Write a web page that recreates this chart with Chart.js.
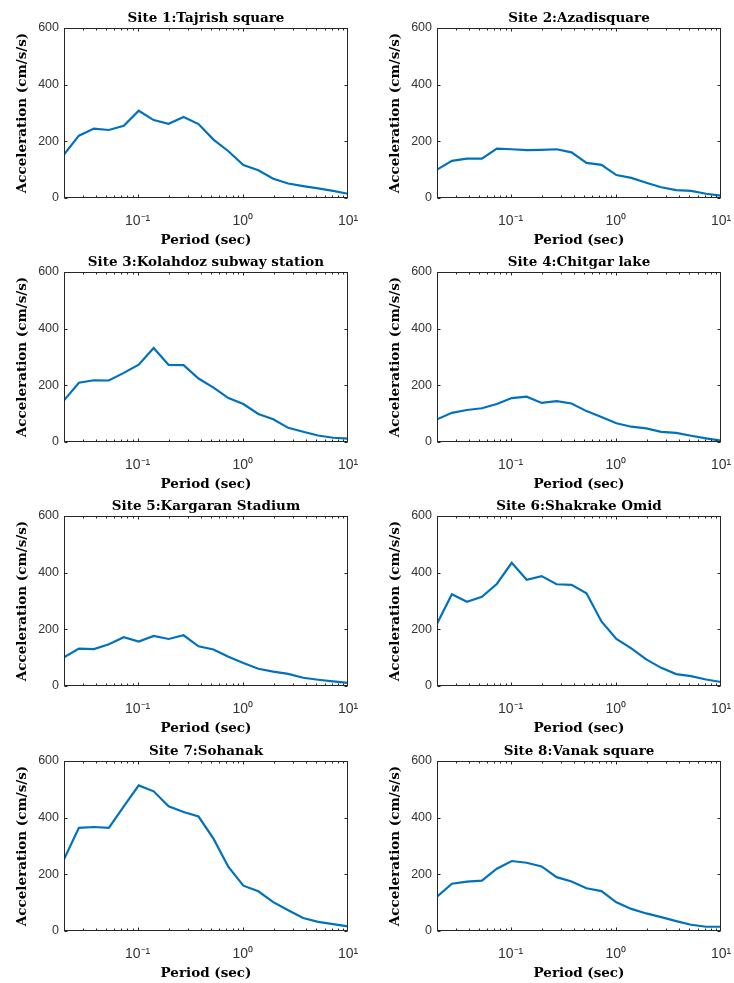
<!DOCTYPE html>
<html>
<head>
<meta charset="utf-8">
<title>Response spectra - 8 sites</title>
<script src="https://cdn.jsdelivr.net/npm/chart.js"></script>
<style>
  body { margin: 0; background: #fff; }
  #wrap { position: relative; width: 734px; height: 983px; overflow: hidden; }
  #wrap canvas { position: absolute; }
</style>
</head>
<body>
<div id="wrap"></div>
<script>
// Periods (sec) of the spectral ordinates
const periods = [0.02, 0.0277, 0.0385, 0.0534, 0.074, 0.1026, 0.1423, 0.1974, 0.2738, 0.3798,
  0.5268, 0.7306, 1.013, 1.405, 1.949, 2.703, 3.749, 5.199, 7.21, 10];

// Subplot titles
const siteTitles = [
  "Site 1:Tajrish square",
  "Site 2:Azadisquare",
  "Site 3:Kolahdoz subway station",
  "Site 4:Chitgar lake",
  "Site 5:Kargaran Stadium",
  "Site 6:Shakrake Omid",
  "Site 7:Sohanak",
  "Site 8:Vanak square",
];

// Spectral acceleration (cm/s/s) per site
const site1 = [153, 220, 245, 240, 255, 308, 275, 262, 286, 261, 206, 165, 116, 98, 68, 51, 42, 34, 25, 15];
const site2 = [100, 131, 139, 139, 174, 172, 169, 170, 172, 161, 124, 117, 81, 71, 54, 38, 28, 25, 15, 8];
const site3 = [147, 209, 218, 217, 244, 273, 332, 272, 271, 224, 192, 155, 134, 99, 80, 50, 36, 23, 15, 12];
const site4 = [80, 103, 113, 119, 134, 155, 160, 138, 144, 136, 109, 88, 66, 54, 48, 36, 32, 22, 13, 5];
const site5 = [101, 132, 130, 147, 172, 157, 177, 166, 179, 140, 129, 103, 81, 61, 51, 43, 29, 22, 16, 11];
const site6 = [220, 324, 297, 315, 360, 435, 375, 388, 359, 357, 327, 228, 166, 133, 94, 64, 42, 35, 23, 14];
const site7 = [253, 364, 367, 364, 440, 514, 493, 440, 420, 404, 326, 226, 160, 140, 102, 73, 46, 32, 24, 16];
const site8 = [121, 167, 174, 178, 220, 247, 241, 228, 190, 175, 151, 141, 101, 78, 62, 49, 35, 22, 15, 15];
const siteData = [site1, site2, site3, site4, site5, site6, site7, site8];

// Axis ticks
const xTicks = [0.1, 1, 10];
const xTickLabels = ["10\u207B\u00B9", "10\u2070", "10\u00B9"];
const yTicks = [0, 200, 400, 600];

const labelFont = "'DejaVu Serif', serif";
const tickFont = "'Liberation Sans', Arial, sans-serif";
const axisColor = "#262626";

// MATLAB style box with inward ticks (major + log minor)
const boxTicks = {
  id: "boxTicks",
  afterDraw(chart) {
    const { ctx, chartArea: a } = chart;
    const xs = chart.scales.x;
    const ys = chart.scales.y;
    const L = Math.round(a.left) + 0.5;
    const R = Math.round(a.right) - 0.5;
    const T = Math.round(a.top) + 0.5;
    const B = Math.round(a.bottom) - 0.5;
    ctx.save();
    ctx.strokeStyle = axisColor;
    ctx.lineWidth = 1;
    ctx.beginPath();
    yTicks.forEach((v) => {
      const py = Math.round(ys.getPixelForValue(v)) + 0.5;
      ctx.moveTo(L, py); ctx.lineTo(L + 3, py);
      ctx.moveTo(R, py); ctx.lineTo(R - 3, py);
    });
    for (let d = 0.01; d < 10; d *= 10) {
      for (let m = 1; m <= 9; m++) {
        const v = d * m;
        if (v < xs.min || v > xs.max) continue;
        const len = m === 1 ? 3 : 2;
        const px = Math.round(xs.getPixelForValue(v)) + 0.5;
        ctx.moveTo(px, B); ctx.lineTo(px, B - len);
        ctx.moveTo(px, T); ctx.lineTo(px, T + len);
      }
    }
    ctx.stroke();
    ctx.strokeRect(L, T, R - L, B - T);
    ctx.restore();
  },
};

const wrap = document.getElementById("wrap");
const canvasW = 361;
const canvasH = 256;
const rowTops = [0, 244, 488, 733];
const colLefts = [0, 373];

siteData.forEach((values, i) => {
  const canvas = document.createElement("canvas");
  canvas.width = canvasW;
  canvas.height = canvasH;
  canvas.style.left = colLefts[i % 2] + "px";
  canvas.style.top = rowTops[Math.floor(i / 2)] + "px";
  wrap.appendChild(canvas);

  new Chart(canvas.getContext("2d"), {
    type: "line",
    data: {
      labels: periods,
      datasets: [{
        data: periods.map((p, k) => ({ x: p, y: values[k] })),
        borderColor: "#0072BD",
        borderWidth: 2.2,
        pointRadius: 0,
        fill: false,
        tension: 0,
      }],
    },
    options: {
      responsive: false,
      animation: false,
      devicePixelRatio: 1,
      layout: { padding: { left: 0, right: canvasW - 348, top: 0, bottom: canvasH - 250 } },
      plugins: {
        legend: { display: false },
        tooltip: { enabled: false },
        title: {
          display: true,
          text: siteTitles[i],
          fullSize: false,
          color: "#000",
          font: { family: labelFont, size: 13.5, weight: "bold", lineHeight: 1 },
          padding: { top: 11.5, bottom: 3 },
        },
      },
      scales: {
        x: {
          type: "logarithmic",
          min: 0.02,
          max: 10,
          afterBuildTicks: (s) => { s.ticks = xTicks.map((v) => ({ value: v })); },
          afterFit: (s) => { s.height = 52; s.paddingLeft = 0; s.paddingRight = 0; },
          grid: { display: false, drawTicks: false },
          border: { display: false },
          ticks: {
            autoSkip: false,
            maxRotation: 0,
            padding: 15,
            color: "#333",
            font: { family: tickFont, size: 14 },
            callback: (v, idx) => xTickLabels[idx],
          },
          title: {
            display: true,
            text: "Period (sec)",
            color: "#000",
            font: { family: labelFont, size: 13.5, weight: "bold", lineHeight: 1 },
            padding: { top: 0, bottom: 3 },
          },
        },
        y: {
          min: 0,
          max: 600,
          afterBuildTicks: (s) => { s.ticks = yTicks.map((v) => ({ value: v })); },
          afterFit: (s) => { s.width = 64; s.paddingTop = 0; s.paddingBottom = 0; },
          grid: { display: false, drawTicks: false },
          border: { display: false },
          ticks: {
            padding: 5,
            color: "#333",
            font: { family: tickFont, size: 12.5 },
          },
          title: {
            display: true,
            text: "Acceleration (cm/s/s)",
            color: "#000",
            font: { family: labelFont, size: 13.5, weight: "bold", lineHeight: 1 },
            padding: { top: 15.5, bottom: 0 },
          },
        },
      },
    },
    plugins: [boxTicks],
  });
});
</script>
</body>
</html>
